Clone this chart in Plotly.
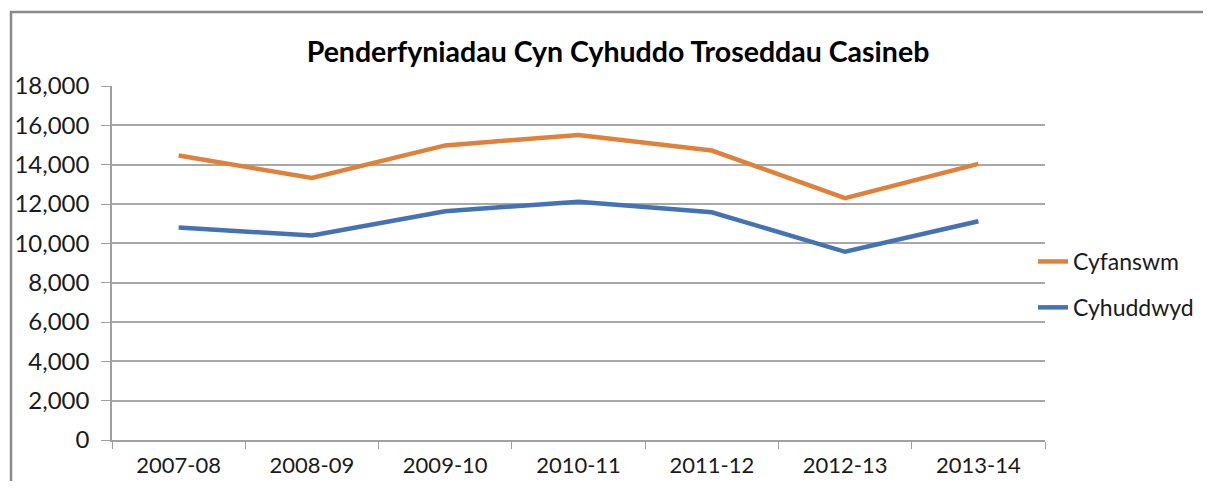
import plotly.graph_objects as go

categories = ["2007-08", "2008-09", "2009-10", "2010-11", "2011-12", "2012-13", "2013-14"]
cyfanswm = [14470, 13320, 14980, 15510, 14720, 12300, 14040]
cyhuddwyd = [10800, 10400, 11630, 12120, 11580, 9570, 11120]
y_ticks = [0, 2000, 4000, 6000, 8000, 10000, 12000, 14000, 16000, 18000]
y_tick_labels = ["0", "2,000", "4,000", "6,000", "8,000", "10,000", "12,000", "14,000", "16,000", "18,000"]

FONT = "Lato"
OFF = 8  # page body margin (each side)
W, H = 1211 - 2 * OFF, 489 - 2 * OFF
# screen-space plot box: left 112, right 1045, top 86, bottom 440
L, T = 112 - OFF, 86 - OFF
R = W - (1045 - OFF)
B = H - (440 - OFF)

pw = W - L - R
ph = H - T - B
def px_x(p):
    return (p - OFF - L) / pw
def px_y(p):
    return (H - B - (p - OFF)) / ph

fig = go.Figure()
fig.add_trace(go.Scatter(x=categories, y=cyfanswm, mode="lines", name="Cyfanswm",
                         line=dict(color="#E0813A", width=4.5), legendgroup="a"))
fig.add_trace(go.Scatter(x=categories, y=cyhuddwyd, mode="lines", name="Cyhuddwyd",
                         line=dict(color="#4472B2", width=4.5), legendgroup="b"))

border_path = "M {x0},{y0} L {x0},{y1} L {x1},{y1}".format(
    x0=px_x(11), y0=px_y(490), y1=px_y(12), x1=px_x(1203))

fig.update_layout(
    width=W, height=H,
    margin=dict(l=L, r=R, t=T, b=B, pad=0, autoexpand=False),
    paper_bgcolor="white", plot_bgcolor="white",
    font=dict(family=FONT, size=22, color="#1a1a1a"),
    title=dict(text="<b>Penderfyniadau Cyn Cyhuddo Troseddau Casineb</b>",
               x=px_x(618), xanchor="center", xref="paper",
               y=1 - (52 - OFF) / H, yanchor="middle",
               font=dict(family=FONT, size=28.5, color="black")),
    xaxis=dict(type="category", range=[-0.5, 6.5], showgrid=False, automargin=False,
               showline=True, linecolor="#a0a0a0", linewidth=1.5,
               ticks="outside", tickson="boundaries", ticklen=7, tickcolor="#a0a0a0",
               ticklabelstandoff=5,
               tickfont=dict(family=FONT, size=22, color="#1a1a1a")),
    yaxis=dict(range=[0, 18000], tickvals=y_ticks, ticktext=y_tick_labels, automargin=False,
               showgrid=True, gridcolor="#a8a8a8", gridwidth=1.5,
               showline=True, linecolor="#a0a0a0", linewidth=1.5,
               ticks="outside", ticklen=9, tickcolor="#a0a0a0",
               ticklabelstandoff=7, zeroline=False,
               tickfont=dict(family=FONT, size=24, color="#1a1a1a")),
    legend=dict(x=px_x(1033), xanchor="left", y=px_y(240), yanchor="top",
                bgcolor="rgba(0,0,0,0)", tracegroupgap=13,
                font=dict(family=FONT, size=23, color="#1a1a1a")),
    showlegend=True,
    shapes=[dict(type="path", xref="paper", yref="paper", path=border_path,
                 line=dict(color="#8a8a8a", width=2.5), layer="below")],
)

fig.write_html("out.html", config={"displayModeBar": False})
